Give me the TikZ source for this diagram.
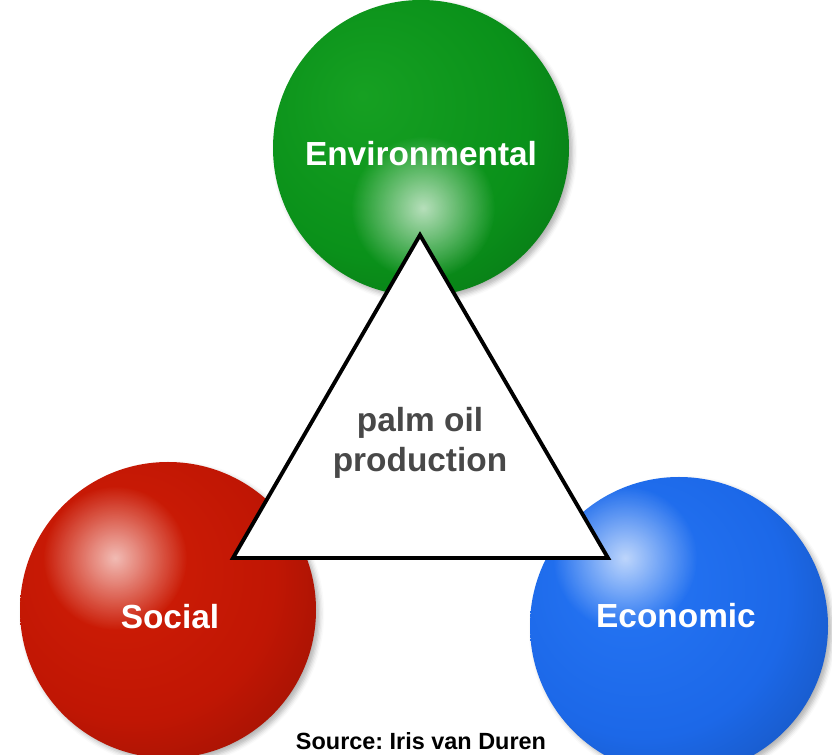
\documentclass[tikz,border=0pt]{standalone}
\usepackage{fontspec}
\setmainfont{Liberation Sans}
\usetikzlibrary{fadings,shadows.blur}
\frenchspacing

\definecolor{envlight}{RGB}{22,160,34}
\definecolor{envmid}{RGB}{10,145,26}
\definecolor{envdark}{RGB}{0,55,8}
\definecolor{soclight}{RGB}{210,30,6}
\definecolor{socmid}{RGB}{192,22,4}
\definecolor{socdark}{RGB}{75,4,0}
\definecolor{ecolight}{RGB}{38,118,245}
\definecolor{ecomid}{RGB}{28,104,232}
\definecolor{ecodark}{RGB}{12,38,110}
\definecolor{palmgray}{RGB}{72,72,72}

\pgfdeclareradialshading{envball}{\pgfpoint{-10bp}{9bp}}{color(0bp)=(envlight); color(24bp)=(envmid); color(41bp)=(envmid!76!black); color(60bp)=(envdark)}
\pgfdeclareradialshading{socball}{\pgfpoint{-10bp}{9bp}}{color(0bp)=(soclight); color(24bp)=(socmid); color(41bp)=(socmid!76!black); color(60bp)=(socdark)}
\pgfdeclareradialshading{ecoball}{\pgfpoint{-10bp}{9bp}}{color(0bp)=(ecolight); color(24bp)=(ecomid); color(41bp)=(ecomid!76!black); color(60bp)=(ecodark)}

\tikzfading[name=glowfade, inner color=transparent!30, outer color=transparent!100]

\begin{document}
\begin{tikzpicture}[x=0.03cm, y=0.03cm,
		sphere/.style={blur shadow={shadow xshift=3pt, shadow yshift=-3pt, shadow blur radius=4pt, shadow opacity=30}},
		glow/.style={white, path fading=glowfade},
		txt/.style={font=\bfseries\fontsize{28.5}{34}\selectfont, align=center, inner sep=0pt},
		tri/.style={draw=black, line width=3.3pt, fill=white, line join=miter}]
		\clip (0,0) rectangle (832,755);

		\coordinate (env) at (421,607);
		\coordinate (soc) at (168,145);
		\coordinate (eco) at (679,129);

		\shade[sphere, shading=envball] (env) circle (148);
		\shade[sphere, shading=socball] (soc) circle (148);
		\shade[sphere, shading=ecoball] (eco) circle (149);

		\fill[glow] (423,547) circle (72);
		\fill[glow] (115,197) circle (72);
		\fill[glow] (625,197) circle (72);

		\coordinate (top) at (420,520);
		\coordinate (left) at (233,197);
		\coordinate (right) at (608,197);
		\draw[tri] (top) -- (left) -- (right) -- cycle;

		\node [txt, text=white] (envtxt) at (421,601) {Environmental};
		\node [txt, text=white] (soctxt) at (170,138) {Social};
		\node [txt, text=white] (ecotxt) at (676,139) {Economic};
		\node [txt, text=palmgray] (palm) at (420,312) {palm oil\\production};
		\node [font=\bfseries\fontsize{20}{24}\selectfont, anchor=base, inner sep=0pt] (src) at (421,5) {Source: Iris van Duren};
	\end{tikzpicture}
\end{document}
